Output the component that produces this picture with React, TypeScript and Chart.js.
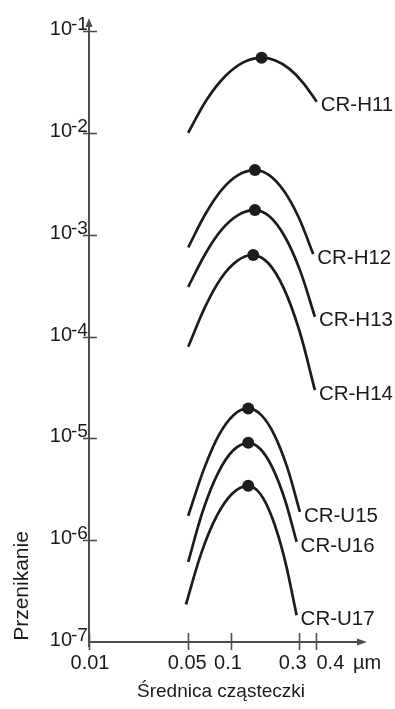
import React, { useEffect, useRef } from "react";
import { Chart, registerables } from "chart.js";

Chart.register(...registerables);

// ---- data ----
const seriesNames = ["CR-H11", "CR-H12", "CR-H13", "CR-H14", "CR-U15", "CR-U16", "CR-U17"];

const h11X = [0.05, 0.0673, 0.0907, 0.1222, 0.1644, 0.2056, 0.257, 0.3214, 0.402];
const h11Y = [0.01, 0.02104, 0.03577, 0.0492, 0.0547, 0.0514, 0.0427, 0.0312, 0.0202];

const h12X = [0.05, 0.0664, 0.0866, 0.113, 0.1476, 0.1869, 0.2366, 0.2998, 0.3799];
const h12Y = [7.5e-4, 1.612e-3, 2.784e-3, 3.864e-3, 4.311e-3, 3.828e-3, 2.681e-3, 1.481e-3, 6.45e-4];

const h13X = [0.05, 0.0664, 0.0866, 0.113, 0.1476, 0.1882, 0.24, 0.3061, 0.3904];
const h13Y = [3.076e-4, 6.573e-4, 1.131e-3, 1.565e-3, 1.744e-3, 1.5e-3, 9.54e-4, 4.488e-4, 1.561e-4];

const h14X = [0.05, 0.0659, 0.0854, 0.1107, 0.1436, 0.1843, 0.2366, 0.304, 0.3904];
const h14Y = [7.92e-5, 1.963e-4, 3.753e-4, 5.537e-4, 6.303e-4, 5.208e-4, 2.937e-4, 1.132e-4, 2.975e-5];

const u15X = [0.05, 0.0646, 0.082, 0.1042, 0.1324, 0.1632, 0.2013, 0.2482, 0.3061];
const u15Y = [1.733e-6, 5.015e-6, 1.071e-5, 1.689e-5, 1.966e-5, 1.698e-5, 1.096e-5, 5.276e-6, 1.897e-6];

const u16X = [0.05, 0.0638, 0.0814, 0.1038, 0.1324, 0.1611, 0.1959, 0.2385, 0.2902];
const u16Y = [6.12e-7, 1.987e-6, 4.609e-6, 7.63e-6, 9.03e-6, 7.852e-6, 5.16e-6, 2.564e-6, 9.62e-7];

const u17X = [0.0482, 0.062, 0.0798, 0.1028, 0.1324, 0.1611, 0.1959, 0.2385, 0.2902];
const u17Y = [2.335e-7, 7.551e-7, 1.747e-6, 2.888e-6, 3.415e-6, 2.844e-6, 1.644e-6, 6.592e-7, 1.834e-7];

const seriesX = [h11X, h12X, h13X, h14X, u15X, u16X, u17X];
const seriesY = [h11Y, h12Y, h13Y, h14Y, u15Y, u16Y, u17Y];
const peakIndex = [4, 4, 4, 4, 4, 4, 4];

const yTicks = [1e-1, 1e-2, 1e-3, 1e-4, 1e-5, 1e-6, 1e-7];
const yTickExps = ["-1", "-2", "-3", "-4", "-5", "-6", "-7"];
const xTicks = [0.01, 0.05, 0.1, 0.3, 0.4];
const xTickLabels = ["0.01", "0.05", "0.1", "0.3", "0.4"];
const xUnit = "\u00b5m";
const xTitle = "Średnica cząsteczki";
const yTitle = "Przenikanie";

const X_MIN = 0.01;
const X_MAX = 0.88;
const Y_MIN = 1e-7;
const Y_MAX = 1e-1;

// ---- styles ----
const FONT = "'Liberation Sans', Arial, Helvetica, sans-serif";
const AXIS = "#4d4d4d";
const INK = "#1c1c1c";
const TEXT = "#1a1a1a";
const X_LABEL_SHIFT = [1, -1, -3, -6, 14];

const decorPlugin = {
  id: "decor",
  beforeDatasetsDraw(chart: any) {
    const ctx = chart.ctx as CanvasRenderingContext2D;
    const xs = chart.scales.x;
    const ys = chart.scales.y;
    const ca = chart.chartArea;
    const x0 = ca.left;
    const yB = ca.bottom;
    ctx.save();
    ctx.strokeStyle = AXIS;
    ctx.fillStyle = AXIS;
    ctx.lineWidth = 2;
    // y axis
    ctx.beginPath();
    ctx.moveTo(x0, yB + 5);
    ctx.lineTo(x0, ca.top - 8);
    ctx.stroke();
    ctx.beginPath();
    ctx.moveTo(x0, ca.top - 13);
    ctx.lineTo(x0 - 3.5, ca.top - 4);
    ctx.lineTo(x0 + 3.5, ca.top - 4);
    ctx.closePath();
    ctx.fill();
    // x axis
    ctx.beginPath();
    ctx.moveTo(x0, yB);
    ctx.lineTo(ca.right - 6, yB);
    ctx.stroke();
    ctx.beginPath();
    ctx.moveTo(ca.right + 2, yB);
    ctx.lineTo(ca.right - 8, yB - 3.5);
    ctx.lineTo(ca.right - 8, yB + 3.5);
    ctx.closePath();
    ctx.fill();
    // y ticks
    ctx.lineWidth = 1.6;
    yTicks.forEach((v) => {
      if (v === Y_MIN) return;
      const py = Math.round(ys.getPixelForValue(v)) + 0.5;
      ctx.beginPath();
      ctx.moveTo(x0 - 6, py);
      ctx.lineTo(x0 + 8, py);
      ctx.stroke();
    });
    // x ticks
    xTicks.forEach((v) => {
      const px = Math.round(xs.getPixelForValue(v)) + 0.5;
      ctx.beginPath();
      ctx.moveTo(px, yB - 9);
      ctx.lineTo(px, yB + 8);
      ctx.stroke();
    });

    // y tick labels
    ctx.fillStyle = TEXT;
    yTicks.forEach((v, i) => {
      const py = ys.getPixelForValue(v);
      ctx.font = `20px ${FONT}`;
      ctx.textAlign = "right";
      ctx.textBaseline = "alphabetic";
      ctx.fillText("10", x0 - 17, py + 4);
      ctx.font = `19px ${FONT}`;
      ctx.textAlign = "left";
      ctx.fillText(yTickExps[i], x0 - 18, py - 1);
    });
    // x tick labels
    ctx.font = `20px ${FONT}`;
    ctx.textAlign = "center";
    ctx.textBaseline = "alphabetic";
    xTicks.forEach((v, i) => {
      const px = xs.getPixelForValue(v);
      ctx.fillText(xTickLabels[i], px + X_LABEL_SHIFT[i], yB + 27);
    });
    ctx.textAlign = "left";
    ctx.fillText(xUnit, ca.right - 12, yB + 27);
    // titles
    ctx.font = `19px ${FONT}`;
    ctx.textAlign = "center";
    ctx.fillText(xTitle, (ca.left + ca.right) / 2 - 6, yB + 55);
    ctx.save();
    ctx.font = `21px ${FONT}`;
    ctx.translate(28, 586);
    ctx.rotate(-Math.PI / 2);
    ctx.textAlign = "center";
    ctx.fillText(yTitle, 0, 0);
    ctx.restore();
    ctx.restore();
  },
  afterDatasetsDraw(chart: any) {
    const ctx = chart.ctx as CanvasRenderingContext2D;
    ctx.save();
    ctx.fillStyle = TEXT;
    ctx.font = `20.5px ${FONT}`;
    ctx.textAlign = "left";
    ctx.textBaseline = "middle";
    seriesNames.forEach((name, i) => {
      const meta = chart.getDatasetMeta(i);
      const last = meta.data[meta.data.length - 1];
      ctx.fillText(name, last.x + 4, last.y + 4);
    });
    ctx.restore();
  },
};

export default function App() {
  const ref = useRef<HTMLCanvasElement | null>(null);
  useEffect(() => {
    if (!ref.current) return;
    const datasets = seriesNames.map((name, i) => ({
      label: name,
      data: seriesX[i].map((x, j) => ({ x, y: seriesY[i][j] })),
      borderColor: INK,
      backgroundColor: INK,
      borderWidth: 2.7,
      tension: 0.35,
      pointRadius: (c: any) => (c.dataIndex === peakIndex[i] ? 6 : 0),
      pointHoverRadius: 0,
      pointBorderWidth: 0,
      pointBackgroundColor: INK,
      fill: false,
    }));
    const chart = new Chart(ref.current, {
      type: "line",
      data: { datasets },
      options: {
        animation: false,
        responsive: false,
        devicePixelRatio: 1,
        layout: { padding: { left: 89, top: 31, right: 30, bottom: 67 } },
        plugins: { legend: { display: false }, tooltip: { enabled: false } },
        events: [],
        scales: {
          x: { type: "logarithmic", min: X_MIN, max: X_MAX, display: false },
          y: { type: "logarithmic", min: Y_MIN, max: Y_MAX, display: false },
        },
      },
      plugins: [decorPlugin],
    });
    return () => chart.destroy();
  }, []);
  return (
    <div style={{ position: "absolute", left: 0, top: 0, width: 395, height: 709, background: "#fff" }}>
      <canvas ref={ref} width={395} height={709} style={{ width: 395, height: 709, display: "block" }} />
    </div>
  );
}
